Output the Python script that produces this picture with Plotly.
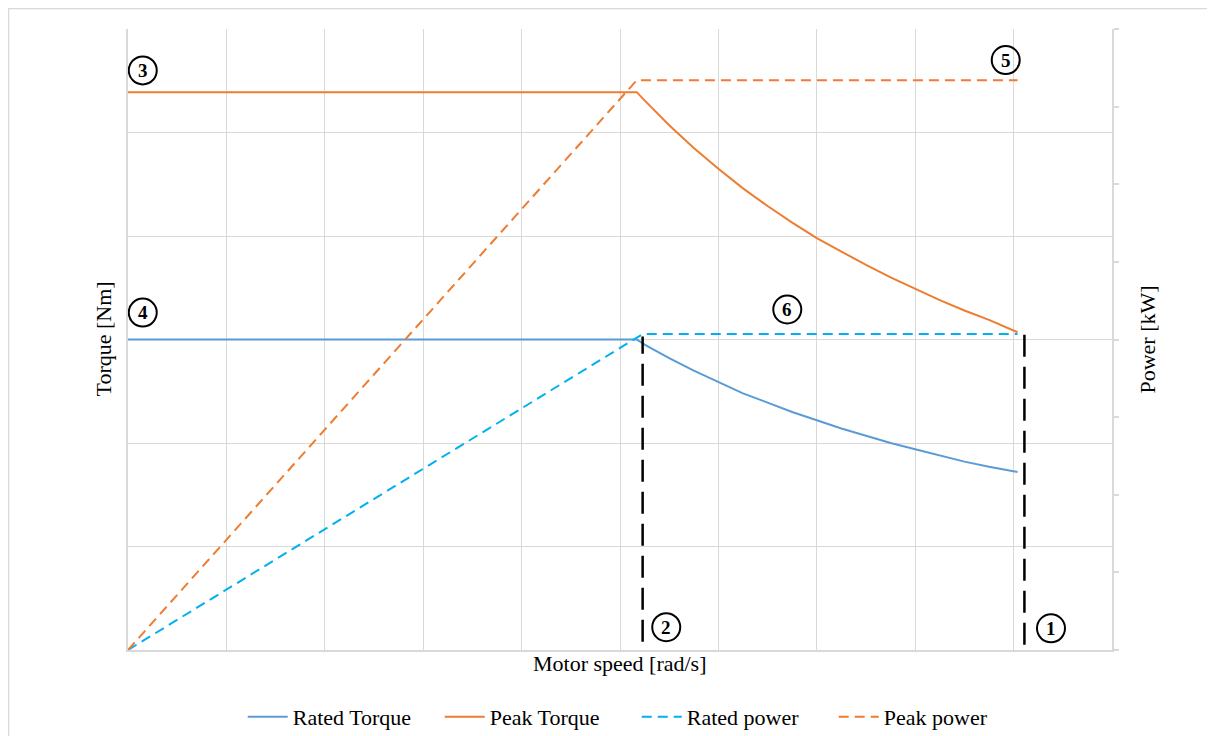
import plotly.graph_objects as go

# ---- data (axis units are gridline steps) ----
speed = [0.0, 5.17, 5.25, 5.5, 5.75, 6.0, 6.25, 6.5, 6.75, 7.0, 7.25, 7.5, 7.75,
         8.0, 8.25, 8.5, 8.75, 9.04]
peak_torque = [5.39, 5.39, 5.31, 5.07, 4.85, 4.65, 4.46, 4.29, 4.13, 3.98, 3.85,
               3.72, 3.60, 3.49, 3.38, 3.28, 3.19, 3.07]
rated_torque = [3.0, 3.0, 2.95, 2.82, 2.70, 2.59, 2.48, 2.39, 2.30, 2.22, 2.14,
                2.07, 2.00, 1.94, 1.88, 1.82, 1.77, 1.72]

speed_power_rated = [0.0, 5.23, 9.04]
rated_power = [0.0, 4.07, 4.07]

speed_power_peak = [0.0, 5.17, 9.04]
peak_power = [0.0, 7.34, 7.34]

marker_speeds = [9.11, 5.23]          # vertical dashed limits (1) and (2)
marker_tops = [3.09, 3.03]
marker_bottoms = [0.05, 0.08]

labels = ["1", "2", "3", "4", "5", "6"]
label_x = [9.38, 5.47, 0.15, 0.15, 8.92, 6.70]
label_y = [0.21, 0.22, 5.60, 3.26, 5.70, 3.29]

FONT = "Liberation Serif"
FS = 22

fig = go.Figure()

fig.add_trace(go.Scatter(x=speed, y=rated_torque, mode="lines",
                         name="Rated Torque", line=dict(color="#5B9BD5", width=2)))
fig.add_trace(go.Scatter(x=speed, y=peak_torque, mode="lines",
                         name="Peak Torque", line=dict(color="#ED7D31", width=2)))
fig.add_trace(go.Scatter(x=speed_power_rated, y=rated_power, mode="lines",
                         name="Rated power", yaxis="y2",
                         line=dict(color="#00B0F0", width=2, dash="10px,6px")))
fig.add_trace(go.Scatter(x=speed_power_peak, y=peak_power, mode="lines",
                         name="Peak power", yaxis="y2",
                         line=dict(color="#ED7D31", width=2, dash="10px,6px")))

for xs, top, bot in zip(marker_speeds, marker_tops, marker_bottoms):
    fig.add_trace(go.Scatter(x=[xs, xs], y=[bot, top], mode="lines", showlegend=False,
                             hoverinfo="skip",
                             line=dict(color="black", width=2.5, dash="22px,10px")))

shapes = []
annotations = []
for t, lx, ly in zip(labels, label_x, label_y):
    shapes.append(dict(type="circle", xref="x", yref="y", xsizemode="pixel",
                       ysizemode="pixel", xanchor=lx, yanchor=ly,
                       x0=-14, x1=14, y0=-14, y1=14,
                       line=dict(color="black", width=2)))
    annotations.append(dict(x=lx, y=ly, xref="x", yref="y", text="<b>%s</b>" % t,
                            showarrow=False, font=dict(family=FONT, size=19, color="black")))

# outer chart border (paper edge)
shapes.append(dict(type="rect", xref="paper", yref="paper", x0=-119.5 / 984, x1=1.3,
                   y0=-0.3, y1=1 + 20.5 / 621, line=dict(color="#D9D9D9", width=1.5),
                   layer="below"))

annotations += [
    dict(text="Torque [Nm]", xref="paper", yref="paper", x=-0.0254, y=0.5,
         xanchor="center", yanchor="middle",
         textangle=-90, showarrow=False, font=dict(family=FONT, size=FS, color="black")),
    dict(text="Power [kW]", xref="paper", yref="paper", x=1.0356, y=0.5,
         xanchor="center", yanchor="middle",
         textangle=-90, showarrow=False, font=dict(family=FONT, size=FS, color="black")),
    dict(text="Motor speed [rad/s]", xref="paper", yref="paper", x=0.5, y=-0.0225,
         xanchor="center", yanchor="middle", showarrow=False,
         font=dict(family=FONT, size=FS, color="black")),
]

fig.update_layout(
    width=1215, height=736,
    margin=dict(l=120, r=111, t=21, b=94, autoexpand=False),
    paper_bgcolor="white", plot_bgcolor="white",
    font=dict(family=FONT, size=FS, color="black"),
    showlegend=True,
    legend=dict(orientation="h", x=0.517, xanchor="center", y=-0.108, yanchor="middle",
                font=dict(family=FONT, size=FS, color="black"), itemwidth=40,
                entrywidth=142),
    xaxis=dict(range=[0, 10], dtick=1, showgrid=True, gridcolor="#D9D9D9", gridwidth=1,
               showticklabels=False, ticks="", showline=True, linecolor="#D9D9D9",
               linewidth=1.5, zeroline=False, mirror=False),
    yaxis=dict(range=[0, 6], dtick=1, showgrid=True, gridcolor="#D9D9D9", gridwidth=1,
               showticklabels=False, ticks="", showline=True, linecolor="#D9D9D9",
               linewidth=1.5, zeroline=False),
    yaxis2=dict(range=[0, 8], dtick=1, overlaying="y", side="right", showgrid=False,
                showticklabels=False, ticks="outside", ticklen=5, tickcolor="#D9D9D9",
                tickwidth=1.5, showline=True, linecolor="#D9D9D9", linewidth=1.5,
                zeroline=False),
    shapes=shapes,
    annotations=annotations,
)

fig.write_html("out.html")
